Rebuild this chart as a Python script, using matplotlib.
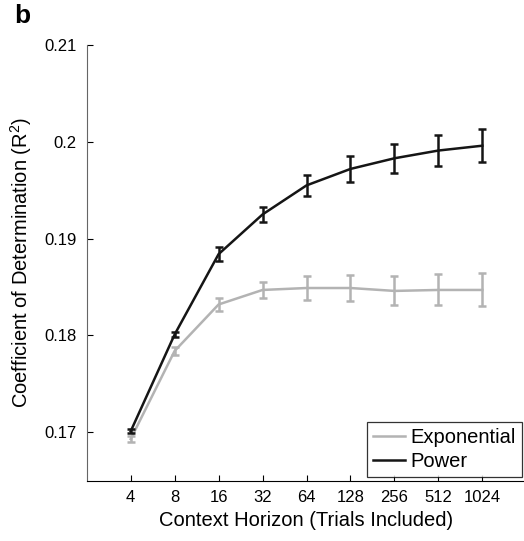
import numpy as np
import matplotlib
matplotlib.use("Agg")
import matplotlib.pyplot as plt
from matplotlib.lines import Line2D

plt.rcParams['font.family'] = ['Liberation Sans', 'DejaVu Sans']
plt.rcParams['mathtext.fontset'] = 'custom'
plt.rcParams['mathtext.rm'] = 'Liberation Sans'

# ----------------------------- data ------------------------------------------
horizon      = [4, 8, 16, 32, 64, 128, 256, 512, 1024]
tick_labels  = [str(h) for h in horizon]
exp_mean     = [0.1693, 0.1784, 0.1832, 0.1847, 0.1849, 0.1849, 0.1846, 0.1847, 0.1847]
exp_err      = [0.0003, 0.0004, 0.0007, 0.0008, 0.0012, 0.0013, 0.0015, 0.0016, 0.0017]
pow_mean     = [0.1701, 0.1801, 0.1884, 0.1925, 0.1955, 0.1972, 0.1983, 0.1991, 0.1996]
pow_err      = [0.0002, 0.0003, 0.0007, 0.0008, 0.0011, 0.0013, 0.0015, 0.0016, 0.0017]

GREY  = '#b3b3b3'
BLACK = '#151515'

# ----------------------------- plot ------------------------------------------
fig = plt.figure(figsize=(5.24, 5.41), dpi=100)
ax = fig.add_axes([0.1655, 0.1115, 0.8389, 0.8053])

x = np.log2(horizon)
ax.errorbar(x, exp_mean, yerr=exp_err, color=GREY, lw=1.8, elinewidth=1.8,
            capsize=3, capthick=1.8, zorder=2)
ax.errorbar(x, pow_mean, yerr=pow_err, color=BLACK, lw=1.8, elinewidth=1.8,
            capsize=3, capthick=1.8, zorder=3)

ax.set_xlim(1, 11)
ax.set_ylim(0.165, 0.21)
ax.set_xticks(x)
ax.set_xticklabels(tick_labels)
ax.set_yticks([0.17, 0.18, 0.19, 0.2, 0.21])
ax.set_yticklabels(['0.17', '0.18', '0.19', '0.2', '0.21'])
ax.tick_params(direction='in', length=4, width=0.8, labelsize=12, pad=7)

for s in ['top', 'right']:
    ax.spines[s].set_visible(False)
ax.spines['left'].set_color('#666666')
ax.spines['bottom'].set_color('black')

ax.set_xlabel('Context Horizon (Trials Included)', fontsize=14.5, labelpad=4)
ax.set_ylabel('Coefficient of Determination (R$^2$)', fontsize=14.5, labelpad=8)

handles = [Line2D([], [], color=GREY, lw=1.8), Line2D([], [], color=BLACK, lw=1.8)]
leg = ax.legend(handles, ['Exponential', 'Power'], loc='lower right',
                bbox_to_anchor=(0.9956, 0.1183), bbox_transform=fig.transFigure,
                fontsize=14.5, frameon=True, fancybox=False, edgecolor='black',
                handlelength=1.6, handletextpad=0.25, borderpad=0.3,
                labelspacing=0.25, borderaxespad=0)
leg.get_frame().set_linewidth(0.9)

fig.text(0.027, 0.992, 'b', fontsize=19, fontweight='bold', va='top', ha='left')

fig.savefig('out.png', dpi=100)
